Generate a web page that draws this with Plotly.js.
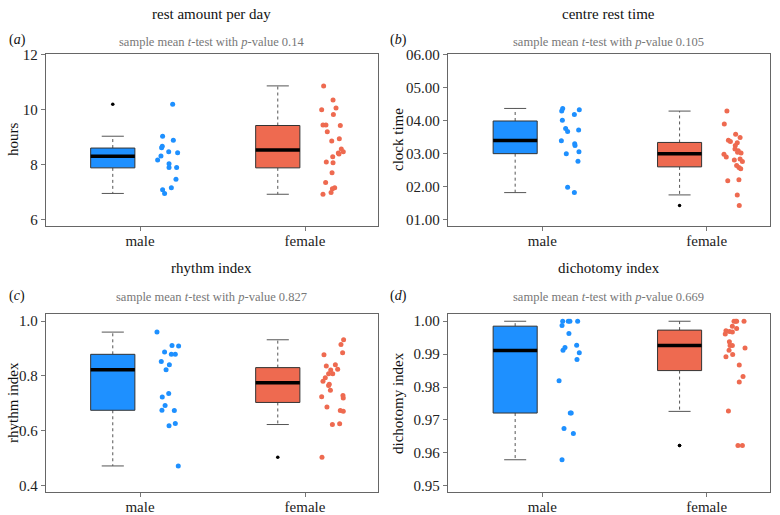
<!DOCTYPE html>
<html>
<head>
<meta charset="utf-8">
<script src="https://cdn.plot.ly/plotly-3.0.1.min.js"></script>
<style>html,body{margin:0;padding:0;background:#fff;}#chart{width:780px;height:515px;}</style>
</head>
<body>
<div id="chart"></div>
<script>
// ---------------- DATA ----------------
const groups = ['male', 'female'];

// (a) rest amount per day (hours)
const restMaleY = [10.18, 9.02, 8.87, 8.66, 8.60, 8.46, 8.42, 8.30, 8.16, 8.02, 7.88, 7.88, 7.46, 7.15, 7.07, 6.94];
const restMaleJitter = [0.198, 0.137, 0.202, 0.135, 0.131, 0.174, 0.228, 0.127, 0.107, 0.176, 0.222, 0.176, 0.218, 0.190, 0.137, 0.149];
const restFemaleY = [10.85, 10.34, 10.05, 9.98, 9.81, 9.43, 9.43, 9.41, 9.18, 8.93, 8.85, 8.56, 8.46, 8.41, 8.37, 8.27, 8.08, 8.06, 7.69, 7.34, 7.15, 7.11, 6.97, 6.91];
const restFemaleJitter = [0.113, 0.170, 0.188, 0.101, 0.172, 0.109, 0.127, 0.214, 0.135, 0.208, 0.162, 0.220, 0.232, 0.202, 0.206, 0.168, 0.129, 0.170, 0.164, 0.125, 0.180, 0.166, 0.158, 0.109];
const restQ1 = [7.87, 7.87];
const restMedian = [8.29, 8.52];
const restQ3 = [8.59, 9.41];
const restLow = [6.94, 6.91];
const restHigh = [9.02, 10.85];
const restOutMale = [10.18];
const restOutFemale = [];
const restTicks = [6, 8, 10, 12];
const restTickText = ['6', '8', '10', '12'];

// (b) centre rest time (clock time, hours)
const clockMaleY = [4.36, 4.28, 4.32, 4.18, 4.00, 3.75, 3.66, 3.71, 3.38, 3.29, 3.24, 2.99, 3.05, 2.76, 1.97, 1.81];
const clockMaleJitter = [0.124, 0.118, 0.225, 0.195, 0.122, 0.142, 0.154, 0.221, 0.116, 0.197, 0.199, 0.146, 0.223, 0.217, 0.154, 0.195];
const clockFemaleY = [4.28, 3.89, 3.58, 3.40, 3.36, 3.48, 3.32, 3.24, 3.13, 3.08, 3.03, 3.01, 2.97, 2.89, 2.80, 2.83, 2.75, 2.63, 2.57, 2.53, 2.17, 2.20, 1.74, 1.42];
const clockFemaleJitter = [0.123, 0.107, 0.176, 0.132, 0.144, 0.203, 0.186, 0.174, 0.172, 0.192, 0.188, 0.209, 0.105, 0.119, 0.168, 0.203, 0.217, 0.182, 0.196, 0.207, 0.128, 0.196, 0.186, 0.198];
const clockQ1 = [2.99, 2.59];
const clockMedian = [3.39, 2.99];
const clockQ3 = [3.98, 3.33];
const clockLow = [1.81, 1.74];
const clockHigh = [4.36, 4.28];
const clockOutMale = [];
const clockOutFemale = [1.42];
const clockTicks = [1, 2, 3, 4, 5, 6];
const clockTickText = ['01.00', '02.00', '03.00', '04.00', '05.00', '06.00'];

// (c) rhythm index
const rhythmMaleY = [0.960, 0.911, 0.909, 0.887, 0.879, 0.879, 0.853, 0.841, 0.823, 0.736, 0.723, 0.692, 0.675, 0.674, 0.627, 0.619, 0.472];
const rhythmMaleJitter = [0.103, 0.194, 0.234, 0.149, 0.190, 0.214, 0.129, 0.178, 0.158, 0.174, 0.135, 0.152, 0.133, 0.208, 0.214, 0.176, 0.232];
const rhythmFemaleY = [0.932, 0.915, 0.885, 0.877, 0.841, 0.836, 0.825, 0.822, 0.808, 0.808, 0.794, 0.781, 0.770, 0.765, 0.748, 0.724, 0.729, 0.720, 0.687, 0.674, 0.671, 0.623, 0.626, 0.504];
const rhythmFemaleJitter = [0.234, 0.218, 0.228, 0.115, 0.184, 0.129, 0.198, 0.156, 0.143, 0.168, 0.123, 0.109, 0.147, 0.143, 0.154, 0.101, 0.230, 0.232, 0.133, 0.214, 0.232, 0.166, 0.210, 0.103];
const rhythmQ1 = [0.675, 0.7035];
const rhythmMedian = [0.823, 0.7755];
const rhythmQ3 = [0.879, 0.8305];
const rhythmLow = [0.472, 0.623];
const rhythmHigh = [0.960, 0.932];
const rhythmOutMale = [];
const rhythmOutFemale = [0.504];
const rhythmTicks = [0.4, 0.6, 0.8, 1.0];
const rhythmTickText = ['0.4', '0.6', '0.8', '1.0'];

// (d) dichotomy index
const dichoMaleY = [1.000, 1.000, 1.000, 1.000, 0.9987, 0.9963, 0.9927, 0.9920, 0.9912, 0.9904, 0.9884, 0.9819, 0.9721, 0.9721, 0.9674, 0.9659, 0.9579];
const dichoMaleJitter = [0.124, 0.158, 0.168, 0.215, 0.120, 0.162, 0.209, 0.138, 0.126, 0.225, 0.211, 0.102, 0.170, 0.176, 0.132, 0.189, 0.120];
const dichoFemaleY = [1.000, 1.000, 1.000, 1.000, 0.9985, 0.9978, 0.9971, 0.9969, 0.9967, 0.9961, 0.9938, 0.9926, 0.9926, 0.9919, 0.9912, 0.9899, 0.9892, 0.9867, 0.9832, 0.9815, 0.9727, 0.9622, 0.9622];
const dichoFemaleJitter = [0.166, 0.176, 0.182, 0.227, 0.156, 0.182, 0.117, 0.138, 0.156, 0.113, 0.138, 0.142, 0.156, 0.233, 0.136, 0.158, 0.117, 0.198, 0.221, 0.198, 0.132, 0.190, 0.217];
const dichoQ1 = [0.9721, 0.9850];
const dichoMedian = [0.9911, 0.9926];
const dichoQ3 = [0.9985, 0.9973];
const dichoLow = [0.9579, 0.9726];
const dichoHigh = [1.000, 1.000];
const dichoOutMale = [];
const dichoOutFemale = [0.9622, 0.9622];
const dichoTicks = [0.95, 0.96, 0.97, 0.98, 0.99, 1.00];
const dichoTickText = ['0.95', '0.96', '0.97', '0.98', '0.99', '1.00'];

// ---------------- STYLE ----------------
const FONT = 'Liberation Serif';
const COLORS = ['#1E90FF', '#EE6A50'];
const BOX_OFFSET = -0.165, BOX_HALF = 0.134, CAP_HALF = 0.067;

const traces = [];
function addPanel(xa, ya, q1, med, q3, lo, hi, outs, ptsY, ptsJ) {
  for (let g = 0; g < 2; g++) {
    const c = g + 1 + BOX_OFFSET;
    const L = c - BOX_HALF, R = c + BOX_HALF;
    traces.push({type: 'scatter', mode: 'lines', xaxis: xa, yaxis: ya, hoverinfo: 'skip',
      x: [c, c, null, c, c], y: [q3[g], hi[g], null, q1[g], lo[g]],
      line: {color: '#555', width: 1, dash: '3px,3px'}});
    traces.push({type: 'scatter', mode: 'lines', xaxis: xa, yaxis: ya, hoverinfo: 'skip',
      x: [c - CAP_HALF, c + CAP_HALF, null, c - CAP_HALF, c + CAP_HALF], y: [hi[g], hi[g], null, lo[g], lo[g]],
      line: {color: '#555', width: 1}});
    traces.push({type: 'scatter', mode: 'lines', xaxis: xa, yaxis: ya, hoverinfo: 'skip',
      x: [L, R, R, L, L], y: [q1[g], q1[g], q3[g], q3[g], q1[g]],
      fill: 'toself', fillcolor: COLORS[g], line: {color: '#333', width: 1}});
    traces.push({type: 'scatter', mode: 'lines', xaxis: xa, yaxis: ya, hoverinfo: 'skip',
      x: [L, R], y: [med[g], med[g]], line: {color: '#000', width: 3.5}});
    traces.push({type: 'scatter', mode: 'markers', xaxis: xa, yaxis: ya, hoverinfo: 'skip',
      x: outs[g].map(() => c), y: outs[g], marker: {color: '#000', size: 3.5}});
    traces.push({type: 'scatter', mode: 'markers', xaxis: xa, yaxis: ya, hoverinfo: 'skip',
      x: ptsJ[g].map(j => g + 1 + j), y: ptsY[g], marker: {color: COLORS[g], size: 5}});
  }
}

addPanel('x', 'y', restQ1, restMedian, restQ3, restLow, restHigh, [restOutMale, restOutFemale],
  [restMaleY, restFemaleY], [restMaleJitter, restFemaleJitter]);
addPanel('x2', 'y2', clockQ1, clockMedian, clockQ3, clockLow, clockHigh, [clockOutMale, clockOutFemale],
  [clockMaleY, clockFemaleY], [clockMaleJitter, clockFemaleJitter]);
addPanel('x3', 'y3', rhythmQ1, rhythmMedian, rhythmQ3, rhythmLow, rhythmHigh, [rhythmOutMale, rhythmOutFemale],
  [rhythmMaleY, rhythmFemaleY], [rhythmMaleJitter, rhythmFemaleJitter]);
addPanel('x4', 'y4', dichoQ1, dichoMedian, dichoQ3, dichoLow, dichoHigh, [dichoOutMale, dichoOutFemale],
  [dichoMaleY, dichoFemaleY], [dichoMaleJitter, dichoFemaleJitter]);

const W = 780, H = 515;
const colL = [45.7 / W, 377.7 / W], colR = [447.7 / W, 770 / W];
const rowT = [1 - 226 / H, 1 - 54 / H], rowB = [1 - 492 / H, 1 - 314 / H];

function xAxis(domain, range, anchor) {
  return {domain, range, anchor, tickmode: 'array', tickvals: [1, 2], ticktext: groups,
    ticks: 'outside', ticklen: 4, tickcolor: '#777', showline: true, mirror: true,
    linecolor: '#666', linewidth: 1, showgrid: false, zeroline: false, fixedrange: true,
    ticklabelstandoff: -3,
    tickfont: {family: FONT, size: 15, color: '#222'}};
}
function yAxis(domain, range, anchor, tv, tt) {
  return {domain, range, anchor, tickmode: 'array', tickvals: tv, ticktext: tt,
    ticks: 'outside', ticklen: 4, tickcolor: '#777', showline: true, mirror: true,
    linecolor: '#666', linewidth: 1, showgrid: false, zeroline: false, fixedrange: true,
    tickfont: {family: FONT, size: 15, color: '#222'}};
}

function ann(text, px, py, size, color, angle) {
  return {text, x: px / W, y: 1 - py / H, xref: 'paper', yref: 'paper', showarrow: false,
    xanchor: 'center', yanchor: 'middle', textangle: angle || 0,
    font: {family: FONT, size, color}};
}

const SUB = 12.5;
const annotations = [
  ann('rest amount per day', 211.7, 14, 15, '#111'),
  ann('sample mean <i>t</i>-test with <i>p</i>-value 0.14', 211.7, 42, SUB, '#777'),
  ann('(<i>a</i>)', 17, 40, 14, '#111'),
  ann('hours', 13, 140, 15, '#111', -90),

  ann('centre rest time', 608.8, 14, 15, '#111'),
  ann('sample mean <i>t</i>-test with <i>p</i>-value 0.105', 608.8, 42, SUB, '#777'),
  ann('(<i>b</i>)', 398, 40, 14, '#111'),
  ann('clock time', 398, 140, 15, '#111', -90),

  ann('rhythm index', 211.7, 268, 15, '#111'),
  ann('sample mean <i>t</i>-test with <i>p</i>-value 0.827', 211.7, 297, SUB, '#777'),
  ann('(<i>c</i>)', 17, 296, 14, '#111'),
  ann('rhythm index', 13, 403, 15, '#111', -90),

  ann('dichotomy index', 608.8, 268, 15, '#111'),
  ann('sample mean <i>t</i>-test with <i>p</i>-value 0.669', 608.8, 297, SUB, '#777'),
  ann('(<i>d</i>)', 398, 296, 14, '#111'),
  ann('dichotomy index', 398, 403, 15, '#111', -90)
];

const layout = {
  width: W, height: H, margin: {l: 0, r: 0, t: 0, b: 0},
  paper_bgcolor: '#fff', plot_bgcolor: '#fff', showlegend: false,
  font: {family: FONT, color: '#222'},
  xaxis: xAxis(colL, [0.4285, 2.4406], 'y'),
  yaxis: yAxis(rowT, [5.756, 12.01], 'x', restTicks, restTickText),
  xaxis2: xAxis(colR, [0.4246, 2.385], 'y2'),
  yaxis2: yAxis(rowT, [0.798, 6.01], 'x2', clockTicks, clockTickText),
  xaxis3: xAxis(colL, [0.4285, 2.4406], 'y3'),
  yaxis3: yAxis(rowB, [0.377, 1.026], 'x3', rhythmTicks, rhythmTickText),
  xaxis4: xAxis(colR, [0.4246, 2.385], 'y4'),
  yaxis4: yAxis(rowB, [0.9481, 1.0022], 'x4', dichoTicks, dichoTickText),
  annotations
};

Plotly.newPlot('chart', traces, layout, {displayModeBar: false, staticPlot: true});
</script>
</body>
</html>
